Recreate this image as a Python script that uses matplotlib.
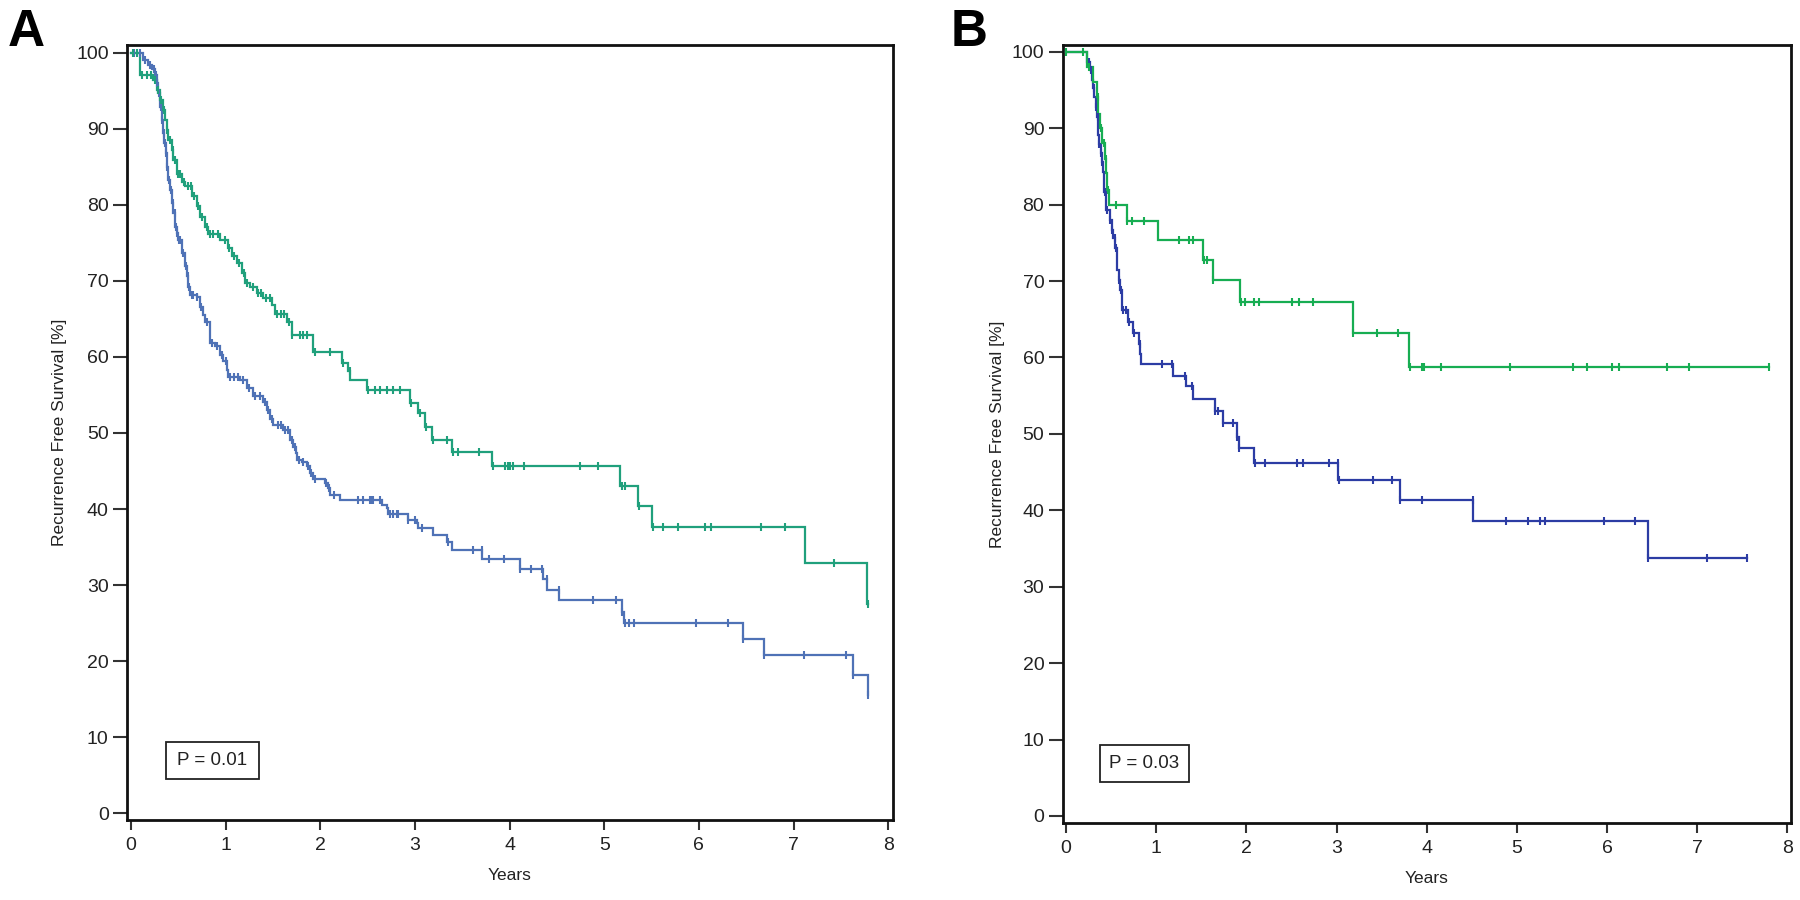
import numpy as np
import matplotlib
matplotlib.use("Agg")
import matplotlib.pyplot as plt
from matplotlib.patches import Rectangle

plt.rcParams['font.family'] = ['Liberation Sans', 'DejaVu Sans']

# ---------------- Panel A data ----------------
A_green_t = [0.095, 0.236, 0.271, 0.306, 0.341, 0.360, 0.377, 0.394, 0.429, 0.447, 0.483, 0.535, 0.570,
             0.641, 0.694, 0.729, 0.782, 0.817, 0.940, 1.028, 1.064, 1.117, 1.170, 1.205, 1.257, 1.328,
             1.398, 1.486, 1.521, 1.645, 1.698, 1.926, 2.226, 2.296, 2.314, 2.490, 2.947, 3.035, 3.106,
             3.176, 3.388, 3.810, 5.170, 5.360, 5.500, 7.120, 7.780]
A_green_s = [97.1, 96.4, 95.1, 93.8, 92.5, 91.2, 89.8, 88.5, 87.2, 85.9, 84.1, 83.0, 82.4, 81.1, 79.8,
             78.4, 77.1, 76.2, 75.4, 74.3, 73.2, 72.3, 71.0, 69.7, 69.2, 68.4, 67.7, 66.8, 65.7, 64.6,
             62.9, 60.7, 59.2, 58.1, 57.0, 55.6, 53.9, 52.6, 50.8, 49.1, 47.5, 45.6, 43.0, 40.4, 37.7,
             32.9, 27.5]
A_green_cens = [0.02, 0.06, 0.12, 0.17, 0.21, 0.25, 0.29, 0.32, 0.35, 0.38, 0.41, 0.44, 0.46, 0.50, 0.52,
                0.56, 0.60, 0.63, 0.67, 0.71, 0.75, 0.80, 0.84, 0.87, 0.92, 0.99, 1.04, 1.09, 1.14, 1.19,
                1.23, 1.29, 1.34, 1.37, 1.43, 1.47, 1.54, 1.58, 1.62, 1.67, 1.70, 1.79, 1.82, 1.86, 1.94,
                2.10, 2.24, 2.31, 2.50, 2.58, 2.63, 2.70, 2.77, 2.84, 2.96, 3.05, 3.12, 3.19, 3.335, 3.40,
                3.45, 3.68, 3.82, 3.95, 3.98, 4.00, 4.04, 4.15, 4.74, 4.93, 5.19, 5.22, 5.37, 5.51, 5.62,
                5.78, 6.06, 6.13, 6.66, 6.91, 7.43, 7.79]

A_blue_t = [0.130, 0.183, 0.218, 0.254, 0.271, 0.289, 0.306, 0.324, 0.341, 0.352, 0.366, 0.377, 0.394,
            0.412, 0.429, 0.447, 0.465, 0.483, 0.500, 0.535, 0.570, 0.588, 0.606, 0.623, 0.694, 0.729,
            0.764, 0.780, 0.830, 0.887, 0.940, 0.975, 1.011, 1.028, 1.151, 1.222, 1.292, 1.398, 1.433,
            1.468, 1.504, 1.609, 1.680, 1.715, 1.743, 1.750, 1.803, 1.856, 1.891, 1.919, 2.049, 2.084,
            2.102, 2.208, 2.648, 2.701, 2.718, 2.930, 3.018, 3.035, 3.194, 3.335, 3.388, 3.712, 4.109,
            4.349, 4.391, 4.521, 5.183, 5.211, 6.469, 6.687, 7.624, 7.790]
A_blue_s = [99.0, 98.4, 97.9, 97.1, 96.0, 94.7, 92.9, 91.2, 89.4, 88.1, 86.8, 85.0, 83.3, 82.0, 80.2,
            78.9, 77.1, 76.3, 75.4, 73.6, 71.9, 70.6, 69.2, 68.2, 67.9, 66.6, 65.5, 64.6, 61.8, 61.4,
            60.3, 59.4, 58.3, 57.4, 57.0, 55.9, 54.8, 54.1, 53.0, 51.9, 51.1, 50.4, 49.1, 48.2, 47.3,
            46.5, 46.2, 45.6, 44.7, 44.0, 43.4, 42.7, 41.9, 41.2, 40.5, 40.1, 39.4, 38.6, 38.1, 37.5,
            36.6, 35.7, 34.6, 33.4, 32.1, 30.8, 29.4, 28.0, 26.5, 25.0, 22.9, 20.8, 18.2, 15.6]
A_blue_cens = [0.03, 0.10, 0.15, 0.20, 0.24, 0.26, 0.28, 0.30, 0.315, 0.33, 0.345, 0.36, 0.37, 0.385,
               0.40, 0.42, 0.44, 0.46, 0.475, 0.49, 0.51, 0.52, 0.55, 0.58, 0.60, 0.615, 0.64, 0.66,
               0.70, 0.74, 0.80, 0.86, 0.91, 0.96, 1.00, 1.05, 1.09, 1.13, 1.18, 1.25, 1.31, 1.36, 1.42,
               1.45, 1.49, 1.55, 1.58, 1.63, 1.66, 1.70, 1.73, 1.77, 1.82, 1.87, 1.90, 1.94, 2.06, 2.09,
               2.14, 2.40, 2.455, 2.525, 2.543, 2.56, 2.631, 2.736, 2.771, 2.807, 2.824, 2.93, 3.0, 3.07,
               3.35, 3.61, 3.705, 3.785, 3.94, 4.11, 4.226, 4.338, 4.39, 4.52, 4.877, 5.124, 5.19, 5.22,
               5.261, 5.314, 5.969, 6.310, 6.47, 6.69, 7.110, 7.553, 7.63, 7.79]

# ---------------- Panel B data ----------------
B_green_t = [0.229, 0.303, 0.340, 0.359, 0.377, 0.396, 0.433, 0.444, 0.451, 0.481, 0.673, 1.024, 1.523,
             1.634, 1.930, 3.179, 3.808]
B_green_s = [98.0, 96.1, 94.1, 91.9, 90.0, 88.0, 86.0, 84.1, 81.9, 79.9, 77.8, 75.4, 72.8, 70.1, 67.2,
             63.2, 58.8]
B_green_cens = [0.0, 0.19, 0.25, 0.35, 0.39, 0.42, 0.44, 0.47, 0.55, 0.68, 0.73, 0.86, 1.257, 1.368,
                1.405, 1.531, 1.56, 1.634, 1.94, 1.985, 2.085, 2.144, 2.503, 2.588, 2.736, 3.179, 3.446,
                3.686, 3.815, 3.945, 3.975, 4.156, 4.925, 5.62, 5.775, 6.052, 6.134, 6.662, 6.906, 7.801]

B_blue_t = [0.235, 0.266, 0.285, 0.296, 0.311, 0.329, 0.340, 0.351, 0.359, 0.366, 0.385, 0.396, 0.407,
            0.421, 0.440, 0.488, 0.507, 0.525, 0.543, 0.569, 0.588, 0.599, 0.618, 0.625, 0.691, 0.747,
            0.813, 0.821, 0.828, 1.183, 1.331, 1.405, 1.653, 1.738, 1.900, 1.922, 2.085, 3.020, 3.705,
            4.518, 6.459]
B_blue_s = [98.7, 97.6, 96.3, 95.2, 94.1, 92.8, 91.5, 90.2, 89.1, 87.9, 86.7, 85.6, 84.2, 81.7, 79.3,
            78.0, 76.7, 75.6, 74.3, 71.4, 70.1, 68.8, 67.5, 66.2, 64.7, 63.2, 61.8, 60.4, 59.1, 57.6,
            56.2, 54.6, 53.0, 51.4, 49.6, 48.1, 46.2, 43.9, 41.3, 38.6, 33.8]
B_blue_cens = [0.25, 0.28, 0.31, 0.33, 0.35, 0.37, 0.39, 0.40, 0.43, 0.45, 0.49, 0.51, 0.54, 0.55, 0.59,
               0.61, 0.63, 0.66, 0.70, 0.75, 0.82, 1.061, 1.172, 1.32, 1.394, 1.653, 1.69, 1.738, 1.849,
               1.90, 1.922, 2.096, 2.207, 2.559, 2.632, 2.917, 3.013, 3.031, 3.401, 3.612, 3.705, 3.945,
               4.51, 4.877, 5.128, 5.257, 5.313, 5.967, 6.311, 6.459, 7.106, 7.557]

x_ticks = [0, 1, 2, 3, 4, 5, 6, 7, 8]
y_ticks = [0, 10, 20, 30, 40, 50, 60, 70, 80, 90, 100]
p_texts = ["P = 0.01", "P = 0.03"]
panel_letters = ["A", "B"]

colors = {
    "A": ("#20a07c", "#4f72b6"),
    "B": ("#17ad52", "#2c3ca4"),
}


def km_draw(ax, t, s, cens, color):
    t = np.asarray(t, float)
    s = np.asarray(s, float)
    cens = np.asarray(cens, float)
    t_end = max(cens.max(), t.max())
    tt = np.concatenate([[0.0], t, [t_end]])
    ss = np.concatenate([[100.0], s, [s[-1]]])
    ax.step(tt, ss, where='post', color=color, lw=1.6, solid_joinstyle='miter', zorder=3)
    idx = np.searchsorted(tt[:-1], cens + 1e-9, side='right') - 1
    cy = ss[idx]
    ax.plot(cens, cy, linestyle='none', marker='|', ms=5.5, mew=1.5, color=color, zorder=4)


fig = plt.figure(figsize=(18, 9), dpi=100)
ax_rects = [[127 / 1800, 80 / 900, 765.7 / 1800, 775 / 900],
            [1062.7 / 1800, 77.3 / 900, 728.3 / 1800, 777.7 / 900]]
xlims = [(-0.042, 8.047), (-0.037, 8.04)]
ylims = [(-0.88, 101.0), (-0.88, 100.88)]
pboxes = [(0.0505, 0.0525, 0.1223, 0.0478), (0.0508, 0.052, 0.1226, 0.0479)]
letter_x = [8 / 1800, 951 / 1800]

datasets = [
    (A_green_t, A_green_s, A_green_cens, A_blue_t, A_blue_s, A_blue_cens),
    (B_green_t, B_green_s, B_green_cens, B_blue_t, B_blue_s, B_blue_cens),
]

for i, key in enumerate(["A", "B"]):
    ax = fig.add_axes(ax_rects[i])
    gt, gs, gc, bt, bs, bc = datasets[i]
    gcol, bcol = colors[key]
    km_draw(ax, bt, bs, bc, bcol)
    km_draw(ax, gt, gs, gc, gcol)
    ax.set_xlim(*xlims[i])
    ax.set_ylim(*ylims[i])
    ax.set_xticks(x_ticks)
    ax.set_yticks(y_ticks)
    ax.set_xticklabels([str(v) for v in x_ticks])
    ax.set_yticklabels([str(v) for v in y_ticks])
    for sp in ax.spines.values():
        sp.set_linewidth(2.0)
        sp.set_color('#111111')
    ax.tick_params(axis='x', direction='out', length=7.5, width=1.5, pad=5,
                   labelsize=14, colors='#333333', labelcolor='#222222')
    ax.tick_params(axis='y', direction='out', length=10, width=1.5, pad=3.2,
                   labelsize=14, colors='#333333', labelcolor='#222222')
    ax.set_xlabel("Years", fontsize=12.5, color='#222222')
    ax.set_ylabel("Recurrence Free Survival [%]", fontsize=12.5, color='#222222')
    ax.xaxis.set_label_coords(0.5, -0.062)
    ax.yaxis.set_label_coords(-0.079, 0.5)
    x0, y0, w, h = pboxes[i]
    ax.add_patch(Rectangle((x0, y0), w, h, transform=ax.transAxes, fill=False,
                           ec='#222222', lw=1.3, zorder=5))
    ax.text(x0 + w / 2, y0 + h / 2, p_texts[i], transform=ax.transAxes, ha='center', va='center',
            fontsize=13.5, color='#222222', zorder=6)
    fig.text(letter_x[i], 1 - 8 / 900, panel_letters[i], ha='left', va='top',
             fontsize=37, fontweight='bold', color='#000000')

fig.savefig("out.png", dpi=100, facecolor='white')
